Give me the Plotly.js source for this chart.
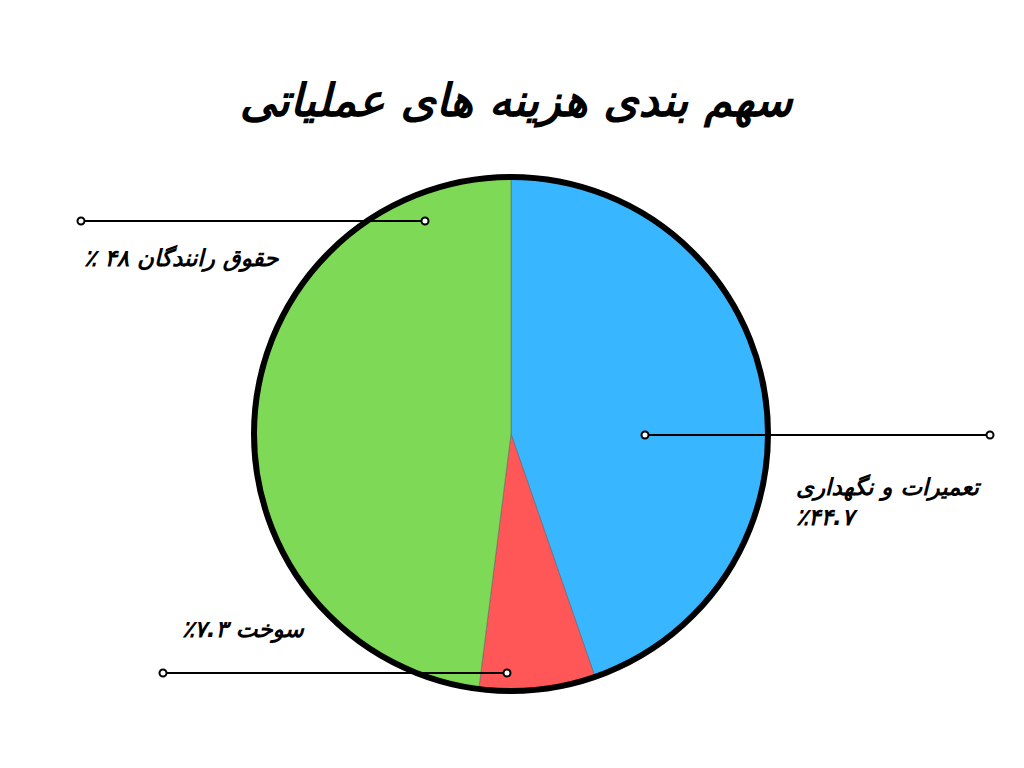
<!DOCTYPE html>
<html>
<head>
<meta charset="utf-8">
<script src="https://cdn.plot.ly/plotly-3.0.1.min.js"></script>
<style>
  html, body { margin: 0; padding: 0; background: #fff; }
  #chart { width: 1024px; height: 768px; }
</style>
</head>
<body>
<div id="chart"></div>
<script>
// ── Datos ────────────────────────────────────────────
const chartTitle = 'سهم بندی هزینه های عملیاتی';
const categories = ['تعمیرات و نگهداری', 'سوخت', 'حقوق رانندگان'];
const shares     = [44.7, 7.3, 48];
const labelTexts = [
  'تعمیرات و نگهداری<br>٪۴۴.۷',
  'سوخت ۷.۳٪',
  'حقوق رانندگان ۴۸ ٪'
];
const colors = ['#38b6ff', '#ff5757', '#7ed957'];

// ── Geometría (px) ───────────────────────────────────
const W = 1024, H = 768;
const cx = 511, cy = 434, R = 257;
const px = x => x / W;
const py = y => 1 - y / H;
const rtl = s => s.split('<br>').map(t => '\u202B' + t + '\u202C').join('<br>');

// líneas guía: [x0, x1, y]
const leaders = [
  [645, 990, 435],
  [163, 507, 673],
  [81, 425, 221]
];
// posición de etiquetas: [x, y, xanchor]
const labelPos = [
  [794, 501, 'left'],
  [307, 630, 'right'],
  [281, 259, 'right']
];

const trace = {
  type: 'pie',
  labels: categories,
  values: shares,
  sort: false,
  direction: 'clockwise',
  rotation: 0,
  textinfo: 'none',
  hoverinfo: 'label+percent',
  marker: { colors: colors, line: { color: '#666', width: 0.6 } },
  domain: { x: [px(cx - R), px(cx + R)], y: [py(cy + R), py(cy - R)] },
  showlegend: false
};

const shapes = [{
  type: 'circle', xref: 'paper', yref: 'paper',
  x0: px(cx - R), x1: px(cx + R), y0: py(cy + R), y1: py(cy - R),
  line: { color: '#000', width: 6 }
}];

leaders.forEach(([x0, x1, y]) => {
  shapes.push({
    type: 'line', xref: 'paper', yref: 'paper',
    x0: px(x0), x1: px(x1), y0: py(y), y1: py(y),
    line: { color: '#000', width: 2 }
  });
  [x0, x1].forEach(x => shapes.push({
    type: 'circle', xref: 'paper', yref: 'paper',
    xsizemode: 'pixel', ysizemode: 'pixel',
    xanchor: px(x), yanchor: py(y),
    x0: -3.5, x1: 3.5, y0: -3.5, y1: 3.5,
    fillcolor: '#fff', line: { color: '#000', width: 2 }
  }));
});

const annotations = labelTexts.map((t, i) => ({
  xref: 'paper', yref: 'paper',
  x: px(labelPos[i][0]), y: py(labelPos[i][1]),
  xanchor: labelPos[i][2], yanchor: 'middle',
  align: labelPos[i][2],
  text: '<b><i>' + rtl(t) + '</i></b>',
  showarrow: false,
  font: { family: 'DejaVu Sans', size: 23, color: '#000' }
}));

const layout = {
  width: W, height: H,
  paper_bgcolor: '#fff',
  margin: { t: 0, b: 0, l: 0, r: 0 },
  title: {
    text: '<b><i>' + rtl(chartTitle) + '</i></b>',
    x: 0.504, xanchor: 'center',
    y: py(100), yanchor: 'middle',
    font: { family: 'DejaVu Sans', size: 45, color: '#000' }
  },
  shapes: shapes,
  annotations: annotations
};

Plotly.newPlot('chart', [trace], layout, { displayModeBar: false });
</script>
</body>
</html>
